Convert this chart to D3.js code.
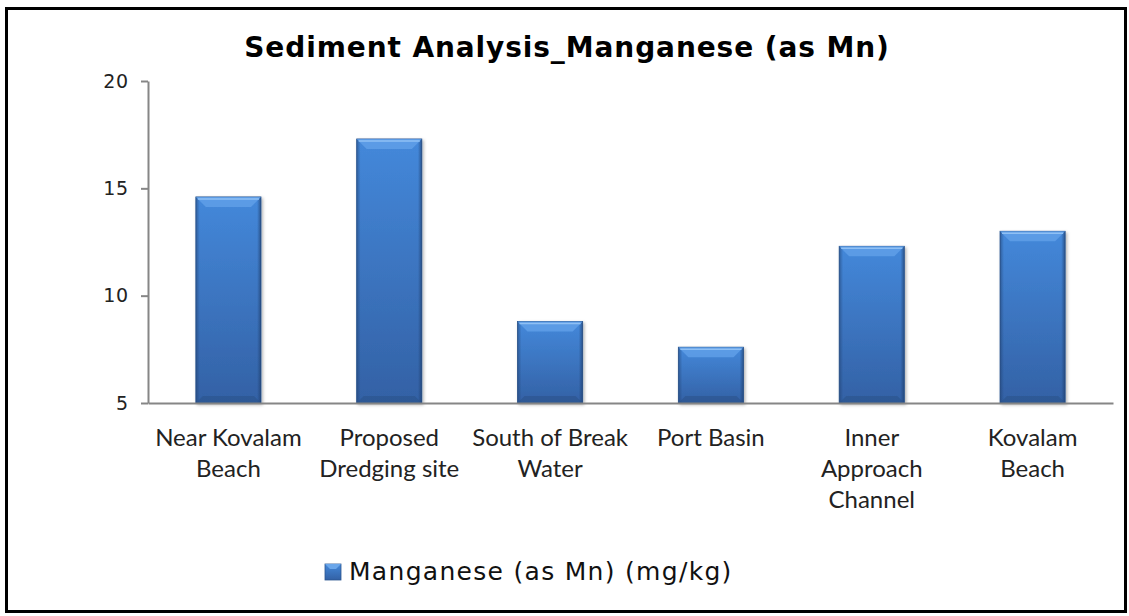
<!DOCTYPE html>
<html>
<head>
<meta charset="utf-8">
<script src="https://cdn.jsdelivr.net/npm/d3@7"></script>
<style>
    html, body { margin: 0; padding: 0; background: #fff; }
    svg { display: block; }
</style>
</head>
<body>
<svg id="chart" width="1129" height="616"></svg>
<script>
const categories = [
    ["Near Kovalam", "Beach"],
    ["Proposed", "Dredging site"],
    ["South of Break", "Water"],
    ["Port Basin"],
    ["Inner", "Approach", "Channel"],
    ["Kovalam", "Beach"]
];
const manganese = [14.6, 17.3, 8.8, 7.6, 12.3, 13.0];
const yTicks = [5, 10, 15, 20];
const chartTitle = "Sediment Analysis_Manganese (as Mn)";
const seriesName = "Manganese (as Mn) (mg/kg)";

const width = 1129;
const height = 616;
const plot = { left: 148, right: 1113, top: 81, bottom: 403 };

const svg = d3.select("#chart");

// frame
svg.append("rect")
    .attr("x", 6.5).attr("y", 8.5)
    .attr("width", width - 10).attr("height", height - 13)
    .attr("fill", "#fff")
    .attr("stroke", "#000")
    .attr("stroke-width", 3);

const defs = svg.append("defs");
const grad = defs.append("linearGradient")
    .attr("id", "barFill")
    .attr("x1", 0).attr("y1", 0).attr("x2", 0).attr("y2", 1);
grad.append("stop").attr("offset", "0%").attr("stop-color", "#4488da");
grad.append("stop").attr("offset", "100%").attr("stop-color", "#3361a5");

const sideGrad = defs.append("linearGradient")
    .attr("id", "barSide")
    .attr("x1", 0).attr("y1", 0).attr("x2", 1).attr("y2", 0);
sideGrad.append("stop").attr("offset", "0%").attr("stop-color", "#1f3f6e").attr("stop-opacity", 0.55);
sideGrad.append("stop").attr("offset", "6%").attr("stop-color", "#1f3f6e").attr("stop-opacity", 0);
sideGrad.append("stop").attr("offset", "94%").attr("stop-color", "#1f3f6e").attr("stop-opacity", 0);
sideGrad.append("stop").attr("offset", "100%").attr("stop-color", "#1f3f6e").attr("stop-opacity", 0.7);

defs.append("filter").attr("id", "shadow")
    .attr("x", "-10%").attr("y", "-10%").attr("width", "130%").attr("height", "120%")
    .append("feDropShadow")
    .attr("dx", 1.5).attr("dy", 1.5).attr("stdDeviation", 1.5)
    .attr("flood-color", "#000").attr("flood-opacity", 0.3);

const x = d3.scaleBand()
    .domain(d3.range(categories.length))
    .range([plot.left, plot.right])
    .paddingInner(0.595)
    .paddingOuter(0.2975);

const y = d3.scaleLinear()
    .domain([5, 20])
    .range([plot.bottom, plot.top]);

// title
svg.append("text")
    .attr("x", 567)
    .attr("y", 57)
    .attr("text-anchor", "middle")
    .style("font-family", "'DejaVu Sans', Verdana, sans-serif")
    .style("font-weight", "bold")
    .style("font-size", "28px")
    .style("letter-spacing", "0.9px")
    .attr("fill", "#000")
    .text(chartTitle);

// bars
const bars = svg.append("g")
    .selectAll("g")
    .data(manganese)
    .join("g")
    .attr("transform", (d, i) => `translate(${x(i)},${y(d)})`);

const bw = x.bandwidth();
bars.append("rect")
    .attr("width", bw)
    .attr("height", d => y(5) - y(d))
    .attr("fill", "url(#barFill)")
    .attr("stroke", "#2c5690")
    .attr("stroke-width", 0.8)
    .attr("filter", "url(#shadow)");

bars.append("rect")
    .attr("width", bw)
    .attr("height", d => y(5) - y(d))
    .attr("fill", "url(#barSide)");

// top bevel
bars.append("path")
    .attr("d", `M0,0 L${bw},0 L${bw - 10},10 L10,10 Z`)
    .attr("fill", "#5f9fe8")
    .attr("opacity", 0.85);
bars.append("path")
    .attr("d", `M2,2 L${bw - 2},2`)
    .attr("stroke", "#8fc0f4")
    .attr("stroke-width", 1.5);

// bottom bevel
bars.append("path")
    .attr("d", d => {
        const h = y(5) - y(d);
        return `M0,${h} L${bw},${h} L${bw - 7},${h - 7} L7,${h - 7} Z`;
    })
    .attr("fill", "#2a5289")
    .attr("opacity", 0.55);

// y axis
const yAxis = svg.append("g")
    .attr("transform", `translate(${plot.left},0)`)
    .call(d3.axisLeft(y).tickValues(yTicks).tickSize(7).tickPadding(12).tickSizeOuter(0));

yAxis.select(".domain").attr("stroke", "#868686").attr("stroke-width", 2);
yAxis.selectAll(".tick line").attr("stroke", "#868686").attr("stroke-width", 2);
yAxis.selectAll(".tick text")
    .style("font-family", "'DejaVu Sans', Verdana, sans-serif")
    .style("font-size", "19px")
    .style("letter-spacing", "0.8px")
    .attr("fill", "#222");

// x axis
const xAxis = svg.append("g")
    .attr("transform", `translate(0,${plot.bottom})`)
    .call(d3.axisBottom(x).tickSize(0).tickSizeOuter(0).tickFormat(""));

xAxis.select(".domain").attr("stroke", "#868686").attr("stroke-width", 2);

xAxis.selectAll(".tick text").remove();
xAxis.selectAll(".tick")
    .append("text")
    .attr("text-anchor", "middle")
    .attr("fill", "#222")
    .style("font-family", "Lato, 'Open Sans', sans-serif")
    .style("font-size", "24px")
    .selectAll("tspan")
    .data(i => categories[i])
    .join("tspan")
    .attr("x", 0)
    .attr("y", (d, j) => 43 + j * 31)
    .text(d => d);

// legend
const legend = svg.append("g").attr("transform", "translate(325,564)");
legend.append("rect")
    .attr("width", 16).attr("height", 16)
    .attr("fill", "url(#barFill)")
    .attr("stroke", "#2c5690")
    .attr("stroke-width", 0.8);
legend.append("path")
    .attr("d", "M0,0 L16,0 L11,5 L5,5 Z")
    .attr("fill", "#6aa6ea");
legend.append("text")
    .attr("x", 24)
    .attr("y", 16)
    .style("font-family", "'DejaVu Sans', Verdana, sans-serif")
    .style("font-size", "25px")
    .style("letter-spacing", "1.3px")
    .attr("fill", "#111")
    .text(seriesName);
</script>
</body>
</html>
